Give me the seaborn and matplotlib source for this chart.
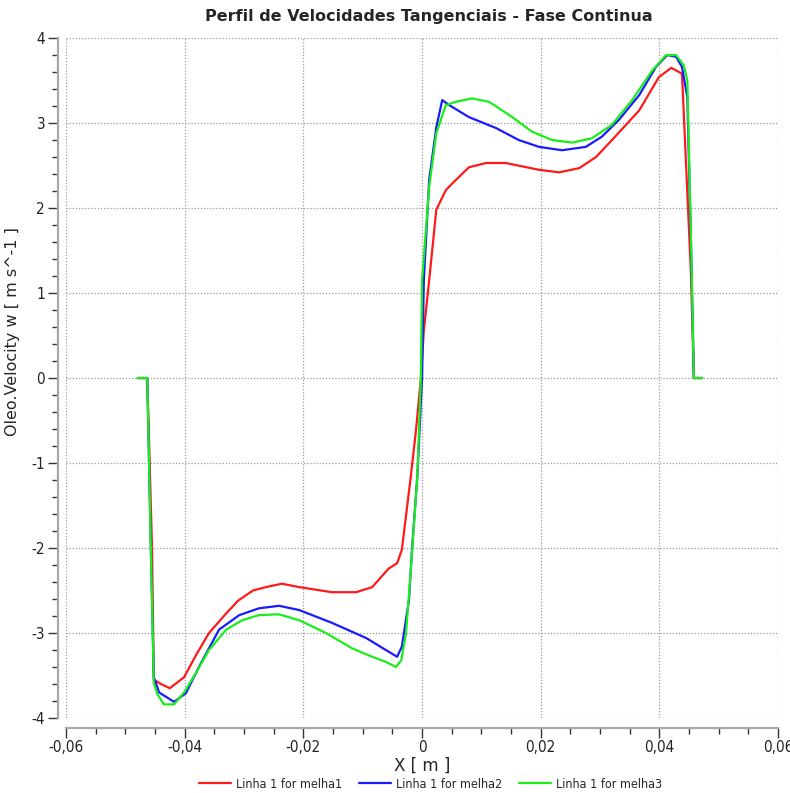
import pandas as pd
import matplotlib
matplotlib.use("Agg")
import matplotlib.pyplot as plt
import seaborn as sns
from matplotlib.ticker import MultipleLocator, FuncFormatter

# curve points (X in m, w in m/s)
x_melha1 = [-0.0479, -0.0463, -0.0455, -0.0452, -0.0440, -0.0425, -0.0401, -0.0380, -0.0359,
            -0.0330, -0.0310, -0.0285, -0.0263, -0.0236, -0.0207, -0.0152, -0.0111, -0.0084,
            -0.0056, -0.0042, -0.0034, -0.0019, -0.0010, -0.0002, 0.0003, 0.0012, 0.0024,
            0.0040, 0.0051, 0.0079, 0.0108, 0.0141, 0.0197, 0.0231, 0.0265, 0.0293, 0.0320,
            0.0366, 0.0399, 0.0420, 0.0438, 0.0453, 0.0458, 0.0472]
w_melha1 = [0.0, 0.0, -2.0, -3.55, -3.60, -3.65, -3.52, -3.25, -3.00,
            -2.77, -2.62, -2.50, -2.46, -2.42, -2.46, -2.52, -2.52, -2.46,
            -2.24, -2.18, -2.02, -1.16, -0.60, 0.0, 0.56, 1.15, 1.98,
            2.21, 2.29, 2.48, 2.53, 2.53, 2.45, 2.42, 2.47, 2.60, 2.80,
            3.15, 3.54, 3.65, 3.58, 1.24, 0.0, 0.0]

x_melha2 = [-0.0479, -0.0463, -0.0457, -0.0452, -0.0443, -0.0418, -0.0398, -0.0376, -0.0342,
            -0.0308, -0.0275, -0.0241, -0.0207, -0.0152, -0.0094, -0.0061, -0.0042, -0.0034,
            -0.0022, -0.0017, -0.0008, 0.0000, 0.0003, 0.0012, 0.0024, 0.0034, 0.0046,
            0.0079, 0.0125, 0.0163, 0.0197, 0.0236, 0.0276, 0.0303, 0.0332, 0.0366, 0.0394,
            0.0413, 0.0428, 0.0438, 0.0447, 0.0453, 0.0458, 0.0472]
w_melha2 = [0.0, 0.0, -2.0, -3.52, -3.70, -3.81, -3.71, -3.40, -2.96,
            -2.79, -2.71, -2.68, -2.73, -2.88, -3.06, -3.20, -3.28, -3.16,
            -2.61, -2.02, -1.16, 0.0, 1.15, 2.33, 2.95, 3.27, 3.21,
            3.07, 2.94, 2.80, 2.72, 2.68, 2.72, 2.84, 3.04, 3.33, 3.66,
            3.80, 3.78, 3.66, 3.30, 1.62, 0.0, 0.0]

x_melha3 = [-0.0479, -0.0463, -0.0457, -0.0452, -0.0446, -0.0435, -0.0418, -0.0401, -0.0381,
            -0.0359, -0.0330, -0.0303, -0.0275, -0.0241, -0.0207, -0.0162, -0.0118, -0.0084,
            -0.0061, -0.0044, -0.0035, -0.0027, -0.0019, -0.0008, -0.0002, 0.0000, 0.0012,
            0.0024, 0.0040, 0.0057, 0.0084, 0.0113, 0.0152, 0.0185, 0.0219, 0.0253, 0.0286,
            0.0320, 0.0354, 0.0388, 0.0411, 0.0428, 0.0441, 0.0447, 0.0453, 0.0458, 0.0472]
w_melha3 = [0.0, 0.0, -2.0, -3.59, -3.72, -3.84, -3.84, -3.70, -3.47,
            -3.20, -2.96, -2.85, -2.79, -2.78, -2.85, -3.00, -3.18, -3.28,
            -3.34, -3.40, -3.32, -3.00, -2.26, -1.16, 0.0, 1.15, 2.25,
            2.88, 3.21, 3.25, 3.29, 3.25, 3.07, 2.90, 2.80, 2.77, 2.82,
            2.98, 3.27, 3.62, 3.80, 3.80, 3.68, 3.50, 1.70, 0.0, 0.0]

series_names = ["Linha 1 for melha1", "Linha 1 for melha2", "Linha 1 for melha3"]
series_colors = ["#ff1a1a", "#1a1aff", "#1aee1a"]

frames = []
for name, xs, ws in zip(series_names,
                        [x_melha1, x_melha2, x_melha3],
                        [w_melha1, w_melha2, w_melha3]):
    frames.append(pd.DataFrame({"X": xs, "w": ws, "serie": name}))
df = pd.concat(frames, ignore_index=True)

sns.set_theme(style="white")
plt.rcParams["font.family"] = ["DejaVu Sans"]

fig, ax = plt.subplots(figsize=(7.9, 7.93), dpi=100)
fig.subplots_adjust(left=0.0835, right=0.985, top=0.952, bottom=0.0946)

sns.lineplot(data=df, x="X", y="w", hue="serie", palette=series_colors,
             sort=False, estimator=None, linewidth=1.6, ax=ax, legend=True)

ax.set_xlim(-0.06, 0.06)
ax.set_ylim(-4, 4)
ax.xaxis.set_major_locator(MultipleLocator(0.02))
ax.xaxis.set_minor_locator(MultipleLocator(0.005))
ax.yaxis.set_major_locator(MultipleLocator(1))
ax.yaxis.set_minor_locator(MultipleLocator(0.2))


def comma_fmt(v, pos):
    if abs(v) < 1e-9:
        return "0"
    s = f"{v:.2f}" if abs(v) < 1 else f"{v:.0f}"
    return s.replace(".", ",")


ax.xaxis.set_major_formatter(FuncFormatter(comma_fmt))
ax.yaxis.set_major_formatter(FuncFormatter(comma_fmt))

ax.grid(True, which="major", linestyle=(0, (1, 1.5)), color="#9a9a9a", linewidth=0.9)
sns.despine(ax=ax, offset={"left": 6, "bottom": 7})
for side in ["left", "bottom"]:
    ax.spines[side].set_color("#a8a8a8")
    ax.spines[side].set_linewidth(1.6)

ax.tick_params(which="major", direction="out", length=7, width=1, color="#333333",
               labelsize=11, pad=2, left=True, bottom=True)
ax.tick_params(which="minor", direction="out", length=4, width=1, color="#333333",
               left=True, bottom=True)
for lab in ax.get_xticklabels() + ax.get_yticklabels():
    lab.set_fontstretch("condensed")
    lab.set_color("#222222")

ax.set_title("Perfil de Velocidades Tangenciais - Fase Continua",
             fontsize=11.5, fontweight="bold", pad=12, x=0.51)
ax.set_xlabel("X [ m ]", fontsize=12, labelpad=1)
ax.set_ylabel("Oleo.Velocity w [ m s^-1 ]", fontsize=11.5)
ax.yaxis.set_label_coords(-0.064, 0.569)

handles, labels = ax.get_legend_handles_labels()
ax.get_legend().remove()
leg = fig.legend(handles, labels, loc="center", bbox_to_anchor=(0.545, 0.011),
                 ncol=3, frameon=False, handlelength=2.6, columnspacing=1.3,
                 handletextpad=0.4, prop={"size": 9, "stretch": "condensed"})

fig.savefig("out.png", dpi=100)
